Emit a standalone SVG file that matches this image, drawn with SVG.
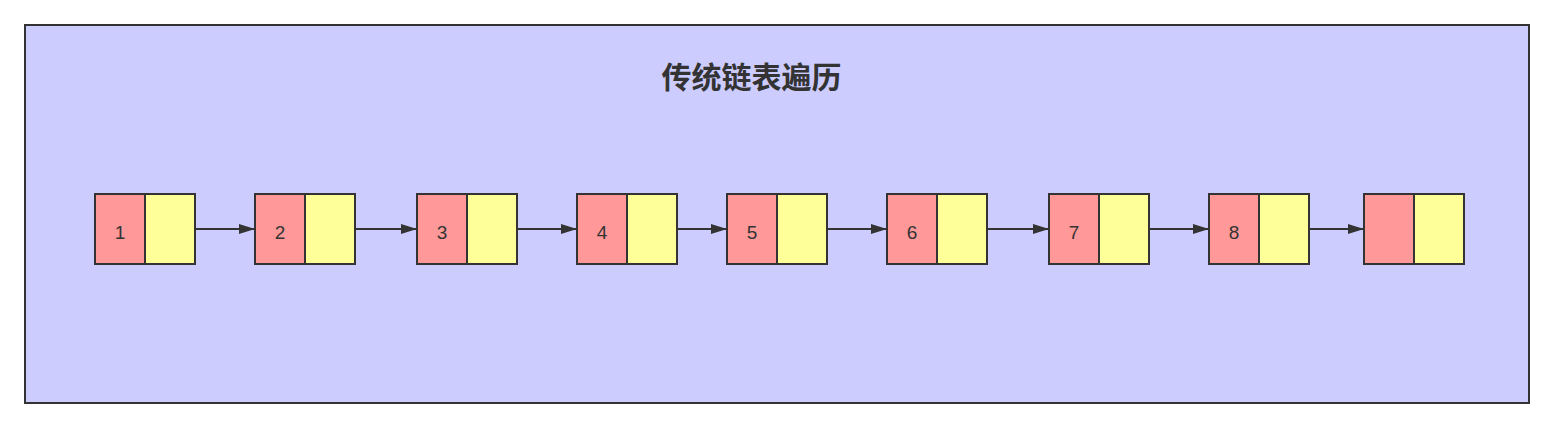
<svg xmlns="http://www.w3.org/2000/svg" width="1554" height="428" viewBox="0 0 1554 428">
<defs>
<style>
.frame{fill:#ccccff;stroke:#333333;stroke-width:2}
.data{fill:#ff9999;stroke:#333333;stroke-width:2}
.next{fill:#ffff99;stroke:#333333;stroke-width:2}
.num{font-family:"Liberation Sans",Arial,sans-serif;font-size:19px;fill:#333333;text-anchor:middle}
.title{font-family:"Liberation Sans","Noto Sans CJK SC",sans-serif;font-size:30px;font-weight:bold;fill:#333333;text-anchor:middle}
.link{stroke:#333333;stroke-width:2;fill:none}
</style>
<marker id="arrow" viewBox="0 0 16 10" refX="16" refY="5" markerWidth="16" markerHeight="10" markerUnits="userSpaceOnUse" orient="auto">
<path d="M0,0 L16,5 L0,10 Z" fill="#333333"/>
</marker>
</defs>
<rect id="container" class="frame" x="25" y="25" width="1504" height="378"/>
<text id="title" class="title" x="751.5" y="88">传统链表遍历</text>
<g id="node1"><rect class="data" x="95" y="194" width="50" height="70"/><rect class="next" x="145" y="194" width="50" height="70"/><text class="num" x="120" y="239">1</text></g>
<g id="node2"><rect class="data" x="255" y="194" width="50" height="70"/><rect class="next" x="305" y="194" width="50" height="70"/><text class="num" x="280" y="239">2</text></g>
<g id="node3"><rect class="data" x="417" y="194" width="50" height="70"/><rect class="next" x="467" y="194" width="50" height="70"/><text class="num" x="442" y="239">3</text></g>
<g id="node4"><rect class="data" x="577" y="194" width="50" height="70"/><rect class="next" x="627" y="194" width="50" height="70"/><text class="num" x="602" y="239">4</text></g>
<g id="node5"><rect class="data" x="727" y="194" width="50" height="70"/><rect class="next" x="777" y="194" width="50" height="70"/><text class="num" x="752" y="239">5</text></g>
<g id="node6"><rect class="data" x="887" y="194" width="50" height="70"/><rect class="next" x="937" y="194" width="50" height="70"/><text class="num" x="912" y="239">6</text></g>
<g id="node7"><rect class="data" x="1049" y="194" width="50" height="70"/><rect class="next" x="1099" y="194" width="50" height="70"/><text class="num" x="1074" y="239">7</text></g>
<g id="node8"><rect class="data" x="1209" y="194" width="50" height="70"/><rect class="next" x="1259" y="194" width="50" height="70"/><text class="num" x="1234" y="239">8</text></g>
<g id="node9"><rect class="data" x="1364" y="194" width="50" height="70"/><rect class="next" x="1414" y="194" width="50" height="70"/></g>
<g id="connectors">
<line class="link" x1="195" y1="229" x2="255" y2="229" marker-end="url(#arrow)"/>
<line class="link" x1="355" y1="229" x2="417" y2="229" marker-end="url(#arrow)"/>
<line class="link" x1="517" y1="229" x2="577" y2="229" marker-end="url(#arrow)"/>
<line class="link" x1="677" y1="229" x2="727" y2="229" marker-end="url(#arrow)"/>
<line class="link" x1="827" y1="229" x2="887" y2="229" marker-end="url(#arrow)"/>
<line class="link" x1="987" y1="229" x2="1049" y2="229" marker-end="url(#arrow)"/>
<line class="link" x1="1149" y1="229" x2="1209" y2="229" marker-end="url(#arrow)"/>
<line class="link" x1="1309" y1="229" x2="1364" y2="229" marker-end="url(#arrow)"/>
</g>
</svg>
